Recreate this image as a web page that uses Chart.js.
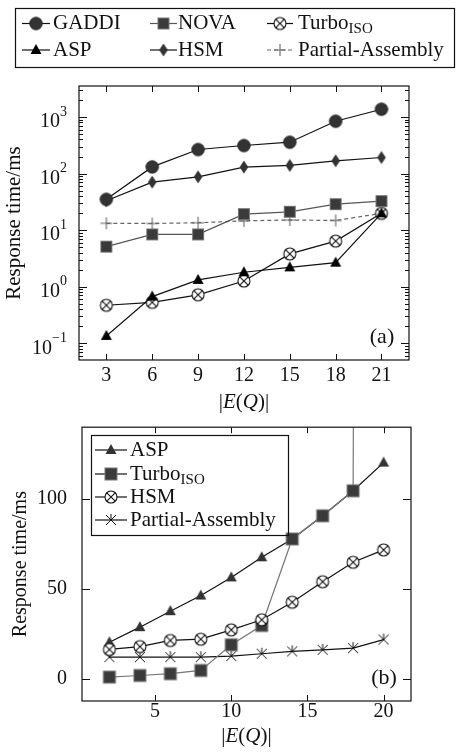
<!DOCTYPE html>
<html>
<head>
<meta charset="utf-8">
<script src="https://cdn.jsdelivr.net/npm/chart.js@4/dist/chart.umd.min.js"></script>
<style>
  html, body { margin: 0; padding: 0; background: #fff; }
  #chartA { position: absolute; left: 0; top: 0; }
  #chartB { position: absolute; left: 0; top: 420px; }
</style>
</head>
<body>
<canvas id="chartA" width="456" height="420"></canvas>
<canvas id="chartB" width="456" height="333"></canvas>
<script>
// ---- panel (a): log scale ----
const xA = [3, 6, 9, 12, 15, 18, 21];
const gaddiA = [35, 131, 266, 313, 358, 840, 1370];
const aspA = [0.135, 0.67, 1.32, 1.8, 2.2, 2.66, 19.8];
const novaA = [5.1, 8.4, 8.4, 19.2, 21.1, 28.8, 32.6];
const hsmA = [33, 70.5, 87.5, 130, 139, 168, 192];
const turboA = [0.47, 0.53, 0.72, 1.26, 3.8, 6.4, 19.8];
const partialA = [13.2, 13.1, 13.5, 14.6, 15.1, 14.8, 19.8];
const xTicksA = [3, 6, 9, 12, 15, 18, 21];
const yTicksA = [0.1, 1, 10, 100, 1000];

// ---- panel (b): linear scale ----
const xB = [2, 4, 6, 8, 10, 12, 14, 16, 18, 20];
const aspB = [20.3, 28.7, 37.6, 46.3, 56.4, 67.6, 77.8, 90.7, 104.6, 120.3];
const turboB = [0.9, 1.8, 2.8, 4.6, 18.9, 29.6, 77.8, 90.7, 104.6, 5000];
const hsmB = [16.3, 17.9, 21.3, 22, 27.2, 32.8, 42.6, 54, 64.8, 71.7];
const partialB = [12, 12, 12, 12, 12.6, 13.9, 15.2, 16.1, 17, 21.8];
const xTicksB = [5, 10, 15, 20];
const yTicksB = [0, 50, 100];

const SERIF = '"Liberation Serif", "Times New Roman", serif';
const INK = '#111';

// marker images
function marker(size, draw) {
    const c = document.createElement('canvas');
    c.width = size; c.height = size;
    const g = c.getContext('2d');
    g.translate(size / 2, size / 2);
    draw(g);
    return c;
}
function poly(g, pts) {
    g.beginPath();
    g.moveTo(pts[0][0], pts[0][1]);
    for (let i = 1; i < pts.length; i++) g.lineTo(pts[i][0], pts[i][1]);
    g.closePath();
}
const M = {
    circ: marker(16, g => {
        g.beginPath(); g.arc(0, 0, 6.3, 0, Math.PI * 2);
        g.fillStyle = '#333'; g.fill();
        g.strokeStyle = '#222'; g.lineWidth = 0.8; g.stroke();
    }),
    sq: marker(16, g => {
        g.fillStyle = '#3a3a3a'; g.fillRect(-5.5, -5.5, 11, 11);
        g.strokeStyle = '#777'; g.lineWidth = 1; g.strokeRect(-5.5, -5.5, 11, 11);
    }),
    sqB: marker(16, g => {
        g.fillStyle = '#3a3a3a'; g.fillRect(-6, -6, 12, 12);
        g.strokeStyle = '#777'; g.lineWidth = 1; g.strokeRect(-6, -6, 12, 12);
    }),
    triK: marker(16, g => {
        poly(g, [[0, -6], [5.5, 4], [-5.5, 4]]);
        g.fillStyle = '#000'; g.fill();
    }),
    triD: marker(16, g => {
        poly(g, [[0, -6], [5.5, 4], [-5.5, 4]]);
        g.fillStyle = '#333'; g.fill();
    }),
    dia: marker(16, g => {
        poly(g, [[0, -6.5], [4.3, 0], [0, 6.5], [-4.3, 0]]);
        g.fillStyle = '#333'; g.fill();
    }),
    xcirc: marker(16, g => {
        g.beginPath(); g.arc(0, 0, 6, 0, Math.PI * 2);
        g.fillStyle = '#fff'; g.fill();
        g.strokeStyle = INK; g.lineWidth = 1.1; g.stroke();
        g.beginPath();
        g.moveTo(-4.2, -4.2); g.lineTo(4.2, 4.2);
        g.moveTo(4.2, -4.2); g.lineTo(-4.2, 4.2);
        g.stroke();
    }),
    plus: marker(16, g => {
        g.strokeStyle = '#666'; g.lineWidth = 1.1;
        g.beginPath();
        g.moveTo(-6, 0); g.lineTo(6, 0);
        g.moveTo(0, -6); g.lineTo(0, 6);
        g.stroke();
    }),
    star: marker(16, g => {
        g.strokeStyle = INK; g.lineWidth = 1;
        g.beginPath();
        g.moveTo(-5, -5); g.lineTo(5, 5);
        g.moveTo(5, -5); g.lineTo(-5, 5);
        g.moveTo(0, -6); g.lineTo(0, 0);
        g.stroke();
    })
};

function series(label, xs, ys, color, mk, dash) {
    return {
        label: label,
        data: xs.map((x, i) => ({ x: x, y: ys[i] })),
        borderColor: color,
        borderWidth: 1.2,
        borderDash: dash || [],
        pointStyle: mk,
        pointRadius: 6,
        tension: 0,
        fill: false
    };
}

function drawMixed(ctx, parts, cx, cy, size) {
    let w = 0;
    parts.forEach(p => {
        ctx.font = p[1] + ' ' + size + 'px ' + SERIF;
        w += ctx.measureText(p[0]).width;
    });
    let x = cx - w / 2;
    ctx.textAlign = 'left';
    ctx.textBaseline = 'middle';
    parts.forEach(p => {
        ctx.font = p[1] + ' ' + size + 'px ' + SERIF;
        ctx.fillText(p[0], x, cy);
        x += ctx.measureText(p[0]).width;
    });
}

// frame, inward ticks, labels and legend, drawn on top of the library's scales
function framePlugin(cfg) {
    return {
        id: 'frame' + cfg.name,
        afterDraw(chart) {
            const ctx = chart.ctx;
            const a = chart.chartArea;
            const xs = chart.scales.x, ys = chart.scales.y;
            ctx.save();
            ctx.strokeStyle = INK;
            ctx.lineWidth = 1.2;
            ctx.strokeRect(a.left, a.top, a.right - a.left, a.bottom - a.top);

            ctx.lineWidth = 1;
            ctx.beginPath();
            cfg.xTicks.forEach(v => {
                const px = Math.round(xs.getPixelForValue(v)) + 0.5;
                ctx.moveTo(px, a.bottom); ctx.lineTo(px, a.bottom - 6);
                ctx.moveTo(px, a.top); ctx.lineTo(px, a.top + 6);
            });
            const yTick = (v, len) => {
                const py = Math.round(ys.getPixelForValue(v)) + 0.5;
                if (py < a.top || py > a.bottom) return;
                ctx.moveTo(a.left, py); ctx.lineTo(a.left + len, py);
                ctx.moveTo(a.right, py); ctx.lineTo(a.right - len, py);
            };
            if (cfg.log) {
                for (let d = -2; d <= 3; d++) {
                    for (let m = 1; m <= 9; m++) {
                        yTick(m * Math.pow(10, d), m === 1 ? 8 : 4);
                    }
                }
            } else {
                cfg.yTicks.forEach(v => yTick(v, 8));
            }
            ctx.stroke();

            ctx.fillStyle = INK;
            if (cfg.log) {
                cfg.yTicks.forEach(v => {
                    const py = ys.getPixelForValue(v);
                    const e = String(Math.round(Math.log10(v))).replace('-', '\u2212');
                    ctx.textAlign = 'right';
                    ctx.textBaseline = 'middle';
                    ctx.font = '14px ' + SERIF;
                    const ew = ctx.measureText(e).width;
                    ctx.fillText(e, 67, py - 5);
                    ctx.font = '20px ' + SERIF;
                    ctx.fillText('10', 67 - ew, py + 5);
                });
            }

            // x axis title |E(Q)|
            ctx.fillStyle = INK;
            drawMixed(ctx, [['|', 'normal'], ['E', 'italic'], ['(', 'normal'], ['Q', 'italic'], [')|', 'normal']],
                (a.left + a.right) / 2, cfg.titleY, 21);

            // panel tag
            ctx.font = '22px ' + SERIF;
            ctx.textAlign = 'center';
            ctx.textBaseline = 'middle';
            ctx.fillText(cfg.tag, a.right - 27, a.bottom - 23);

            // legend
            const L = cfg.legend;
            ctx.lineWidth = 1.2;
            ctx.strokeStyle = INK;
            ctx.strokeRect(L.box[0] + 0.5, L.box[1] + 0.5, L.box[2], L.box[3]);
            L.items.forEach(it => {
                ctx.strokeStyle = it.color;
                ctx.lineWidth = 1.2;
                ctx.setLineDash(it.dash || []);
                ctx.beginPath();
                ctx.moveTo(it.x0, it.y); ctx.lineTo(it.x1, it.y);
                ctx.stroke();
                ctx.setLineDash([]);
                const mx = (it.x0 + it.x1) / 2;
                ctx.drawImage(it.mk, mx - it.mk.width / 2, it.y - it.mk.height / 2);
                ctx.fillStyle = INK;
                ctx.textAlign = 'left';
                ctx.textBaseline = 'middle';
                ctx.font = '21px ' + SERIF;
                ctx.fillText(it.label, it.tx, it.y);
                if (it.sub) {
                    const w = ctx.measureText(it.label).width;
                    ctx.font = '15px ' + SERIF;
                    ctx.fillText(it.sub, it.tx + w, it.y + 6);
                }
            });
            ctx.restore();
        }
    };
}

function xScale(xMin, xMax, xTicks, xHeight, xPad) {
    return {
        type: 'linear',
        min: xMin,
        max: xMax,
        afterBuildTicks: s => { s.ticks = xTicks.map(v => ({ value: v })); },
        afterFit: s => { s.height = xHeight; s.paddingLeft = 0; s.paddingRight = 0; },
        grid: { display: false },
        border: { display: false },
        ticks: {
            font: { family: SERIF, size: 20 },
            color: INK,
            padding: xPad,
            maxRotation: 0,
            autoSkip: false
        }
    };
}

const legendA = {
    box: [15, 8, 439, 59],
    items: [
        { label: 'GADDI', mk: M.circ, color: INK, x0: 22, x1: 50, tx: 53, y: 23.5 },
        { label: 'NOVA', mk: M.sq, color: '#555', x0: 150, x1: 177, tx: 178, y: 23.5 },
        { label: 'Turbo', sub: 'ISO', mk: M.xcirc, color: INK, x0: 267, x1: 293, tx: 298, y: 23.5 },
        { label: 'ASP', mk: M.triK, color: INK, x0: 22, x1: 50, tx: 53, y: 50 },
        { label: 'HSM', mk: M.dia, color: INK, x0: 150, x1: 177, tx: 178, y: 50 },
        { label: 'Partial-Assembly', mk: M.plus, color: '#666', dash: [4, 3], x0: 267, x1: 293, tx: 298, y: 50 }
    ]
};

const legendB = {
    box: [91, 15, 197, 100],
    items: [
        { label: 'ASP', mk: M.triD, color: INK, x0: 95, x1: 127, tx: 130, y: 30 },
        { label: 'Turbo', sub: 'ISO', mk: M.sqB, color: INK, x0: 95, x1: 127, tx: 130, y: 54 },
        { label: 'HSM', mk: M.xcirc, color: INK, x0: 95, x1: 127, tx: 130, y: 77 },
        { label: 'Partial-Assembly', mk: M.star, color: INK, x0: 95, x1: 127, tx: 130, y: 100 }
    ]
};

new Chart(document.getElementById('chartA'), {
    type: 'line',
    data: {
        datasets: [
            series('ASP', xA, aspA, INK, M.triK),
            series('GADDI', xA, gaddiA, INK, M.circ),
            series('NOVA', xA, novaA, '#555', M.sq),
            series('TurboISO', xA, turboA, INK, M.xcirc),
            series('HSM', xA, hsmA, INK, M.dia),
            series('Partial-Assembly', xA, partialA, '#666', M.plus, [4, 3])
        ]
    },
    options: {
        responsive: false,
        devicePixelRatio: 1,
        animation: false,
        layout: { padding: { left: 0, right: 47, top: 86, bottom: 0 } },
        plugins: { legend: { display: false }, tooltip: { enabled: false } },
        scales: {
            x: xScale(1.21, 22.8, xTicksA, 60, -4),
            y: {
                type: 'logarithmic',
                min: 0.0507,
                max: 3524,
                afterBuildTicks: s => { s.ticks = yTicksA.map(v => ({ value: v })); },
                afterFit: s => { s.width = 79; s.paddingTop = 0; s.paddingBottom = 0; },
                grid: { display: false },
                border: { display: false },
                ticks: { display: false },
                title: {
                    display: true,
                    text: 'Response time/ms',
                    font: { family: SERIF, size: 21 },
                    color: INK,
                    padding: { top: 2, bottom: 0 }
                }
            }
        }
    },
    plugins: [framePlugin({ name: 'A', log: true, xTicks: xTicksA, yTicks: yTicksA, titleY: 402, tag: '(a)', legend: legendA })]
});

new Chart(document.getElementById('chartB'), {
    type: 'line',
    data: {
        datasets: [
            series('HSM', xB, hsmB, INK, M.xcirc),
            series('TurboISO', xB, turboB, '#777', M.sqB),
            series('ASP', xB, aspB, INK, M.triD),
            series('Partial-Assembly', xB, partialB, INK, M.star)
        ]
    },
    options: {
        responsive: false,
        devicePixelRatio: 1,
        animation: false,
        layout: { padding: { left: 0, right: 45, top: 7, bottom: 0 } },
        plugins: { legend: { display: false }, tooltip: { enabled: false } },
        scales: {
            x: xScale(0.2, 21.8, xTicksB, 52, -9),
            y: {
                type: 'linear',
                min: -12.4,
                max: 140,
                afterBuildTicks: s => { s.ticks = yTicksB.map(v => ({ value: v })); },
                afterFit: s => { s.width = 82; s.paddingTop = 0; s.paddingBottom = 0; },
                grid: { display: false },
                border: { display: false },
                ticks: {
                    font: { family: SERIF, size: 20 },
                    color: INK,
                    padding: 7
                },
                title: {
                    display: true,
                    text: 'Response time/ms',
                    font: { family: SERIF, size: 20 },
                    color: INK,
                    padding: { top: 9, bottom: 0 }
                }
            }
        }
    },
    plugins: [framePlugin({ name: 'B', log: false, xTicks: xTicksB, yTicks: yTicksB, titleY: 316, tag: '(b)', legend: legendB })]
});
</script>
</body>
</html>
